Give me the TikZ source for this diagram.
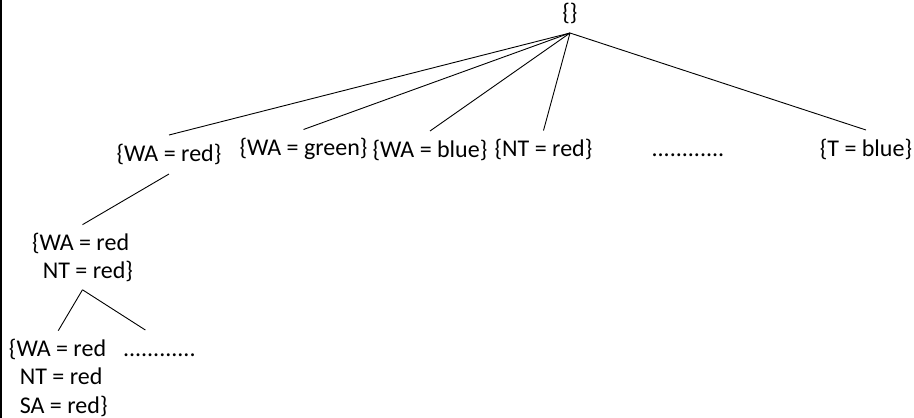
\documentclass[tikz,border=0pt]{standalone}
\usepackage{fontspec}
\setmainfont{Carlito}
\begin{document}
\begin{tikzpicture}[x=1pt,y=-1pt,
  every node/.style={font=\fontsize{24}{28.5}\selectfont, inner xsep=0pt, inner ysep=8pt, outer sep=0pt},
  state/.style={anchor=base, text height=18pt, text depth=5pt},
  multistate/.style={anchor=base west},
  branch/.style={draw=black, line width=0.9pt}]
\useasboundingbox (0,0) rectangle (914,418);

% page edge on the left
\draw[line width=1.5pt] (0.75,0) -- (0.75,418);

% root
\node[state] (root) at (570,20) {\{\}};

% first level
\node[state] (wared)   at (169,161)   {\{WA = red\}};
\node[state] (wagreen) at (303.5,155.5) {\{WA = green\}};
\node[state] (wablue)  at (430,157)   {\{WA = blue\}};
\node[state] (ntred)   at (543.5,156.5) {\{NT = red\}};
\node[state] (dotsone) at (688,156)   {............};
\node[state] (tblue)   at (866,156)   {\{T = blue\}};

% second level
\node[multistate] (wantred) at (32,250)
  {\vtop{\hbox{\{WA = red}\hbox{\hspace*{0.452em}NT = red\}}}};

% third level
\node[multistate] (wantsared) at (9,356)
  {\vtop{\hbox{\{WA = red}\hbox{\hspace*{0.452em}NT = red}\hbox{\hspace*{0.452em}SA = red\}}}};
\node[state, anchor=base west] (dotstwo) at (123,356) {............};

% branches
\draw[branch] (root.south) -- (wared.north);
\draw[branch] (root.south) -- (wagreen.north);
\draw[branch] (root.south) -- (wablue.north);
\draw[branch] (root.south) -- (ntred.north);
\draw[branch] (root.south) -- (tblue.north);
\draw[branch] (wared.south) -- (wantred.north);
\draw[branch] (wantred.south) -- (wantsared.north);
\draw[branch] (wantred.south) -- ([xshift=-14pt]dotstwo.north);
\end{tikzpicture}
\end{document}
